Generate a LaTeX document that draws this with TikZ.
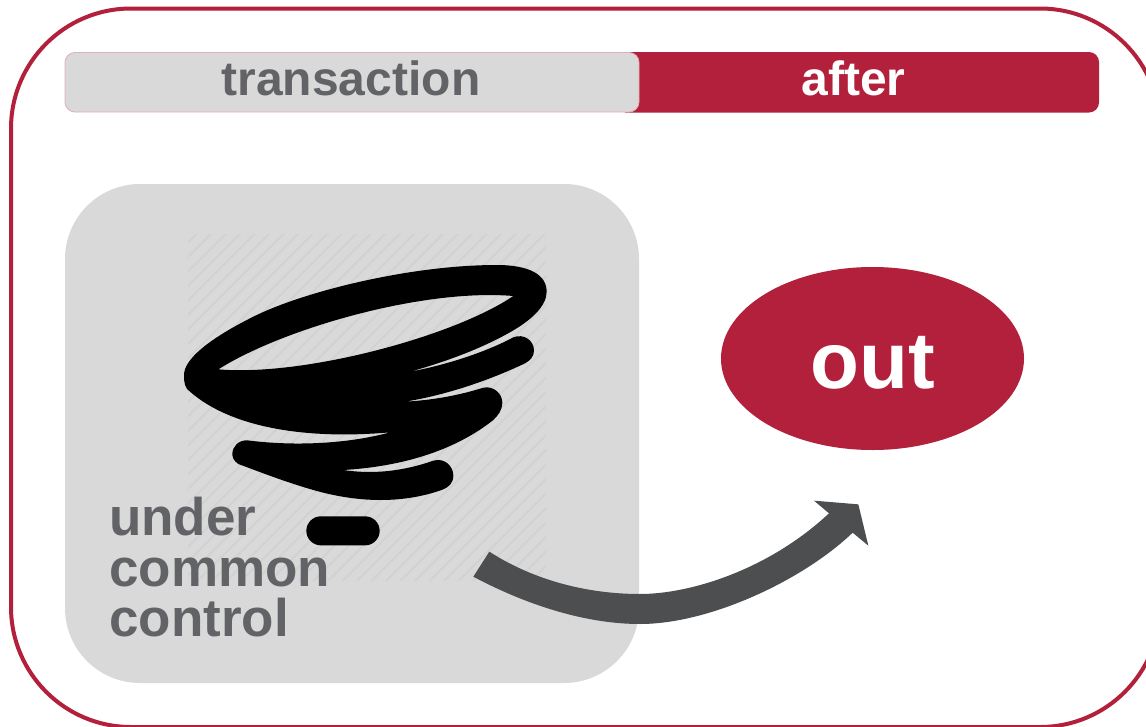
\documentclass[tikz,border=0pt]{standalone}
\usepackage{fontspec}
\usetikzlibrary{shapes.geometric}
\setmainfont{Liberation Sans}
\definecolor{crim}{HTML}{B2203B}
\definecolor{panel}{HTML}{D9D9D9}
\definecolor{hatch}{HTML}{D2D2D2}
\definecolor{txtgrey}{HTML}{626366}
\definecolor{arrowgrey}{HTML}{4D4E50}
\definecolor{tabedge}{HTML}{E2AEB9}
\tikzset{
  frameline/.style={draw=crim,line width=4pt},
  tabtext/.style={anchor=base,inner sep=0pt,font=\fontsize{48}{48}\selectfont\bfseries},
}
\begin{document}
\begin{tikzpicture}[x=1pt,y=-1pt]
\useasboundingbox (0,0) rectangle (1146,726);
\fill[white] (0,0) rectangle (1146,726);
\begin{scope}
\clip (0,0) rectangle (1146,726);
\draw[frameline,rounded corners=120pt] (11,8.5) rectangle (1160,727);
\end{scope}
% tabs
\fill[crim] (625,52) {[rounded corners=10pt] -- (1099,52) -- (1099,112.5)} -- (625,112.5) -- cycle;
\draw[tabedge,fill=panel,line width=0.8pt,rounded corners=10pt] (65,52.5) rectangle (639,112);
\node[tabtext,text=txtgrey] (tabA) at (351,95) {transaction};
\node[tabtext,text=white] (tabB) at (853.5,95) {after};
% panel
\fill[panel,rounded corners=75pt] (65,184) rectangle (639,683);
% hatching
\begin{scope}
\clip (188,234) rectangle (546,580);
\foreach \k in {0,...,52}{
  \draw[hatch,line width=2pt] ({187+\k*14.5-4},233) -- ++(-360,360);
}
\end{scope}
% tornado
\begin{scope}[shift={(170,220)},x=0.33333pt,y=-0.33333pt]
\fill[black,even odd rule]
  (42,465) .. controls (42,420) and (110,360) .. (250,290)
  .. controls (400,215) and (720,135) .. (980,135)
  .. controls (1080,135) and (1130,165) .. (1130,215)
  .. controls (1130,260) and (1080,300) .. (1040,325)
  .. controls (950,380) and (830,425) .. (720,455)
  .. controls (830,435) and (950,395) .. (1030,352)
  .. controls (1060,340) and (1092,360) .. (1092,392)
  .. controls (1092,410) and (1080,422) .. (1065,430)
  .. controls (960,480) and (830,525) .. (705,545)
  .. controls (800,540) and (880,522) .. (940,503)
  .. controls (970,497) and (997,520) .. (997,548)
  .. controls (997,570) and (985,585) .. (970,600)
  .. controls (850,695) and (690,740) .. (520,750)
  .. controls (620,765) and (710,750) .. (790,722)
  .. controls (825,712) and (850,740) .. (850,767)
  .. controls (850,790) and (835,803) .. (815,810)
  .. controls (700,850) and (570,850) .. (430,810)
  .. controls (350,787) and (280,760) .. (205,732)
  .. controls (190,722) and (187,710) .. (187,702)
  .. controls (187,680) and (205,660) .. (232,661)
  .. controls (380,680) and (540,670) .. (660,637)
  .. controls (400,660) and (180,620) .. (60,515)
  .. controls (45,505) and (42,490) .. (42,465) -- cycle
  (145,448) .. controls (340,325) and (760,205) .. (1030,228)
  .. controls (850,350) and (400,470) .. (145,448) -- cycle;
\fill[black,rounded corners=14.5pt] (409,889) rectangle (629,976);
\end{scope}
% label
\node[anchor=north west,inner sep=0pt,align=left,text=txtgrey,font=\fontsize{53}{50.5}\selectfont\bfseries] (lbl) at (109,497) {under\\common\\control};
% out
\node[ellipse,fill=crim,minimum width=303pt,minimum height=183pt,inner sep=0pt] (out) at (872.5,358.5) {};
\node[anchor=base,inner sep=0pt,text=white,font=\fontsize{80}{80}\selectfont\bfseries] (outT) at (873,388) {out};
% arrow
\begin{scope}[shift={(460,480)},x=0.33333pt,y=-0.33333pt]
\fill[arrowgrey]
  (88,215) .. controls (220,300) and (380,342) .. (540,342)
  .. controls (690,342) and (925,270) .. (1107,100)
  -- (1062,62) -- (1195,73) -- (1225,197) -- (1178,158)
  .. controls (1030,300) and (750,432) .. (540,432)
  .. controls (370,432) and (190,370) .. (40,290)
  -- cycle;
\end{scope}
\end{tikzpicture}
\end{document}
